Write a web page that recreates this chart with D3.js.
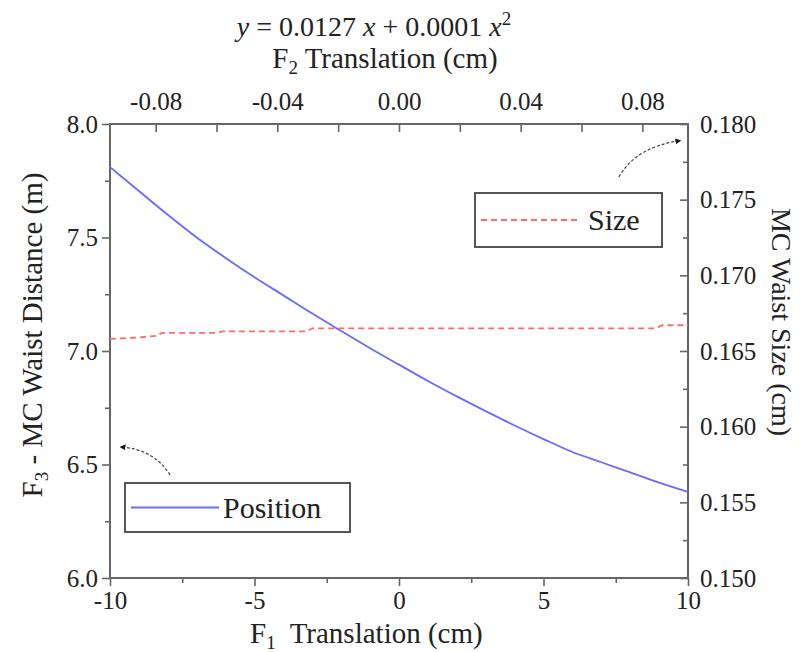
<!DOCTYPE html>
<html><head><meta charset="utf-8">
<script src="https://cdn.jsdelivr.net/npm/d3@7"></script>
</head><body style="margin:0;background:#fff">
<svg id="s" width="807" height="652"></svg>
<script>
// ---- data ----
const positionF = [-10,-9,-8,-7,-6,-5,-4,-3,-2,-1,0,1,2,3,4,5,6,7,8,9,10];
const positionValues = [7.81,7.705,7.60,7.50,7.41,7.325,7.245,7.165,7.088,7.012,6.94,6.868,6.80,6.735,6.672,6.612,6.555,6.51,6.465,6.42,6.379];
const sizeF = [-10,-9,-8.4,-8.2,-6.3,-6.1,-3.2,-3.0,8.9,9.1,10];
const sizeValues = [0.1658,0.1659,0.1660,0.1662,0.1662,0.1663,0.1663,0.1665,0.1665,0.1667,0.1667];
const bottomTicks = [-10,-5,0,5,10];
const bottomMinor = [-7.5,-2.5,2.5,7.5];
const leftTicks = [6.0,6.5,7.0,7.5,8.0];
const leftMinor = [6.25,6.75,7.25,7.75];
const rightTicks = [0.150,0.155,0.160,0.165,0.170,0.175,0.180];
const rightMinor = [0.1525,0.1575,0.1625,0.1675,0.1725,0.1775];
const topTicks = [-0.08,-0.04,0.00,0.04,0.08];
const topMinor = [-0.06,-0.02,0.02,0.06];
const seriesNames = ["Position","Size"];
const seriesColors = ["#6a6aff","#ff6b6b"];

// ---- layout ----
const L = 110, R = 688, T = 124, B = 578;
const svg = d3.select("#s");
const x = d3.scaleLinear([-10,10],[L,R]);
const yL = d3.scaleLinear([6,8],[B,T]);
const yR = d3.scaleLinear([0.15,0.18],[B,T]);
const xT = d3.scaleLinear([-0.095,0.095],[L,R]);
const tickFont = 25, titleFont = 29, axisColor = "#666";
const hy = f => (v => f(v).replace("\u2212","-"));
function serif(sel){ sel.style("font-family",'"Liberation Serif"'); }

function styleAxis(g){
  g.select(".domain").remove();
  g.selectAll("line").attr("stroke",axisColor).attr("stroke-width",1.6);
  g.selectAll("text").attr("font-size",tickFont).attr("fill","#222").call(serif);
}

// bottom
svg.append("g").attr("transform",`translate(0,${B})`)
  .call(d3.axisBottom(x).tickValues(bottomTicks).tickSize(8).tickPadding(5).tickFormat(hy(d3.format("d")))).call(styleAxis);
svg.append("g").attr("transform",`translate(0,${B})`)
  .call(d3.axisBottom(x).tickValues(bottomMinor).tickSize(5).tickFormat("")).call(styleAxis);
// left
svg.append("g").attr("transform",`translate(${L},0)`)
  .call(d3.axisLeft(yL).tickValues(leftTicks).tickSize(8).tickPadding(4).tickFormat(d3.format(".1f"))).call(styleAxis);
svg.append("g").attr("transform",`translate(${L},0)`)
  .call(d3.axisLeft(yL).tickValues(leftMinor).tickSize(5).tickFormat("")).call(styleAxis);
// right (ticks inward)
svg.append("g").attr("transform",`translate(${R},0)`)
  .call(d3.axisRight(yR).tickValues(rightTicks).tickSize(-8).tickPadding(12).tickFormat(d3.format(".3f"))).call(styleAxis);
svg.append("g").attr("transform",`translate(${R},0)`)
  .call(d3.axisRight(yR).tickValues(rightMinor).tickSize(-5).tickFormat("")).call(styleAxis);
// top (ticks inward)
svg.append("g").attr("transform",`translate(0,${T})`)
  .call(d3.axisTop(xT).tickValues(topTicks).tickSize(-8).tickPadding(14).tickFormat(hy(d3.format(".2f")))).call(styleAxis);
svg.append("g").attr("transform",`translate(0,${T})`)
  .call(d3.axisTop(xT).tickValues(topMinor).tickSize(-8).tickFormat("")).call(styleAxis);

// frame
svg.append("rect").attr("x",L).attr("y",T).attr("width",R-L).attr("height",B-T)
  .attr("fill","none").attr("stroke",axisColor).attr("stroke-width",2);

// series
const posData = positionF.map((f,i)=>[f,positionValues[i]]);
const sizeData = sizeF.map((f,i)=>[f,sizeValues[i]]);
svg.append("path").datum(posData)
  .attr("d",d3.line().curve(d3.curveMonotoneX).x(d=>x(d[0])).y(d=>yL(d[1])))
  .attr("fill","none").attr("stroke",seriesColors[0]).attr("stroke-width",1.8);
svg.append("path").datum(sizeData)
  .attr("d",d3.line().x(d=>x(d[0])).y(d=>yR(d[1])))
  .attr("fill","none").attr("stroke",seriesColors[1]).attr("stroke-width",1.8).attr("stroke-dasharray","6,4");

// legends
function legend(bx,by,bw,bh,i,dash,lineLen,textX){
  const g = svg.append("g");
  g.append("rect").attr("x",bx).attr("y",by).attr("width",bw).attr("height",bh)
    .attr("fill","#fff").attr("stroke","#444").attr("stroke-width",1.8);
  g.append("line").attr("x1",bx+6).attr("x2",bx+6+lineLen).attr("y1",by+bh/2).attr("y2",by+bh/2)
    .attr("stroke",seriesColors[i]).attr("stroke-width",1.8).attr("stroke-dasharray",dash);
  g.append("text").attr("x",textX).attr("y",by+bh/2+10).attr("font-size",30).attr("fill","#222").call(serif).text(seriesNames[i]);
}
legend(125,483,225,49,0,null,88,223);
legend(475,193,187,54,1,"6,4",100,588);

// annotation arrows (dashed, curved)
svg.append("defs").append("marker").attr("id","ah").attr("viewBox","0 0 10 10")
  .attr("refX",9).attr("refY",5).attr("markerWidth",5).attr("markerHeight",5).attr("orient","auto")
  .append("path").attr("d","M0,0L10,5L0,10Z").attr("fill","#111");
function arrow(p0,c,p1,ys){
  const path = d3.path();
  path.moveTo(x(p0[0]),ys(p0[1]));
  path.quadraticCurveTo(x(c[0]),ys(c[1]),x(p1[0]),ys(p1[1]));
  svg.append("path").attr("d",path.toString()).attr("fill","none").attr("stroke","#444")
    .attr("stroke-width",1.2).attr("stroke-dasharray","3,2").attr("marker-end","url(#ah)");
}
arrow([-7.92,6.454],[-8.5,6.57],[-9.65,6.577],yL);
arrow([7.61,0.1765],[8.2,0.1785],[9.75,0.1789],yR);

// axis titles
const t1 = svg.append("text").attr("x",250).attr("y",643).attr("font-size",titleFont).attr("fill","#222").call(serif);
t1.append("tspan").text("F");
t1.append("tspan").attr("font-size",19).attr("dy",6).text("1");
t1.append("tspan").attr("dy",-6).attr("dx",14).text("Translation (cm)");

const t2 = svg.append("text").attr("x",385).attr("y",68).attr("text-anchor","middle").attr("font-size",titleFont).attr("fill","#222").call(serif);
t2.append("tspan").text("F");
t2.append("tspan").attr("font-size",19).attr("dy",6).text("2");
t2.append("tspan").attr("dy",-6).text(" Translation (cm)");

const eq = svg.append("text").attr("x",374).attr("y",36).attr("text-anchor","middle").attr("font-size",28).attr("fill","#222").call(serif);
eq.append("tspan").attr("font-style","italic").text("y");
eq.append("tspan").text(" = 0.0127 ");
eq.append("tspan").attr("font-style","italic").text("x");
eq.append("tspan").text(" + 0.0001 ");
eq.append("tspan").attr("font-style","italic").text("x");
eq.append("tspan").attr("font-size",19).attr("dy",-11).text("2");

const tl = svg.append("text").attr("transform","translate(42,335) rotate(-90)").attr("text-anchor","middle").attr("font-size",titleFont).attr("fill","#222").call(serif);
tl.append("tspan").text("F");
tl.append("tspan").attr("font-size",19).attr("dy",6).text("3");
tl.append("tspan").attr("dy",-6).text(" - MC Waist Distance (m)");

svg.append("text").attr("transform","translate(772,322) rotate(90)").attr("text-anchor","middle")
  .attr("font-size",28).attr("fill","#222").call(serif).text("MC Waist Size (cm)");
</script>
</body></html>
